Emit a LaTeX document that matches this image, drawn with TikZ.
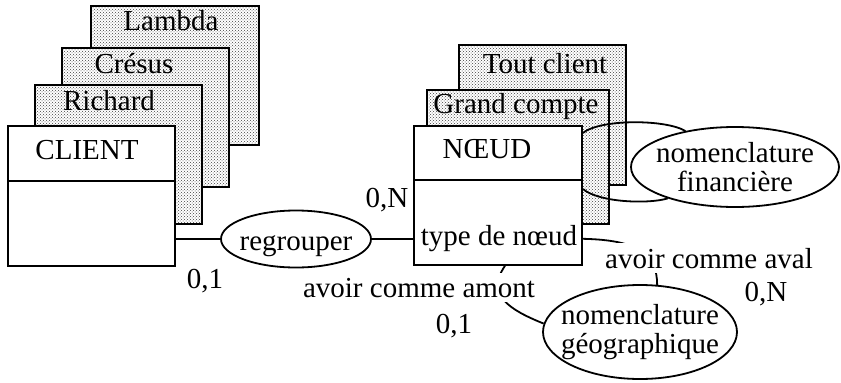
\documentclass[tikz,border=0pt]{standalone}
\usepackage{fontspec}
\setmainfont{Liberation Serif}
\usetikzlibrary{shapes.geometric,patterns,calc}
\begin{document}
\begin{tikzpicture}[x=1pt,y=-1pt, font=\fontsize{29}{29}\selectfont, line width=1.8pt,
 dotbox/.style={draw, preaction={fill=white}, pattern=crosshatch dots, pattern color=black!75, anchor=north west, inner sep=0pt},
 entbox/.style={draw, fill=white, anchor=north west, inner sep=0pt},
 txt/.style={anchor=base, inner sep=0pt},
 assoc/.style={draw, fill=white, ellipse, inner ysep=0pt, align=center},
 lbl/.style={anchor=base, fill=white, inner sep=5pt}
]
\useasboundingbox (0,0) rectangle (841,383);
% CLIENT stack
\node[dotbox, minimum width=168pt, minimum height=139pt] (lambda) at (90,5) {};
\node[txt] (tlambda) at (171,30) {Lambda};
\node[dotbox, minimum width=167pt, minimum height=139pt] (cresus) at (61,47) {};
\node[txt] (tcresus) at (134,73) {Crésus};
\node[dotbox, minimum width=167pt, minimum height=139pt] (richard) at (34,84) {};
\node[txt] (trichard) at (109,110) {Richard};
\node[entbox, minimum width=167pt, minimum height=140pt] (client) at (7,125) {};
\draw (client.west |- 0,181) -- (client.east |- 0,181);
\node[txt] (tclient) at (87,159) {CLIENT};
% NOEUD stack
\node[dotbox, minimum width=167pt, minimum height=140pt] (tout) at (458,44) {};
\node[txt] (ttout) at (545,73) {Tout client};
\node[dotbox, minimum width=182pt, minimum height=134pt] (grand) at (426,89) {};
\node[txt] (tgrand) at (516,113) {Grand compte};
% nomenclature financiere (reflexive)
\node[assoc, minimum width=208pt, minimum height=80pt, inner xsep=-6pt] (fin) at (735,167) {nomenclature\\financière};
\node[entbox, minimum width=168pt, minimum height=139pt] (noeud) at (413,125) {};
\draw (noeud.west |- 0,180) -- (noeud.east |- 0,180);
\node[txt] (tnoeud) at (487,158) {NŒUD};
\node[txt] (ttype) at (499,245) {type de nœud};
\draw ($(noeud.north east)+(0,8)$) .. controls (600,119) and (665,119) .. (fin.144);
\draw ($(noeud.north east)+(0,64)$) .. controls (600,203) and (650,204) .. (fin.205);
% regrouper
\node[assoc, minimum width=150pt, minimum height=57pt, inner xsep=-4pt, text height=23pt, text depth=1pt] (regr) at (296,239) {regrouper};
\draw (regr.west) -- (client.east |- regr.west);
\draw (regr.east) -- (noeud.west |- regr.east);
% nomenclature geographique
\node[assoc, minimum width=194pt, minimum height=94pt, inner xsep=-12pt] (geo) at (640,332) {nomenclature\\géographique};
\draw ($(noeud.south east)+(0,-27)$) .. controls (640,240) and (657,255) .. (geo.70);
\node[lbl] (aval) at (709,268) {avoir comme aval};
\draw ($(noeud.south west)+(92,0)$) .. controls (485,295) and (510,310) .. (geo.175);
\node[lbl] (amont) at (419,297) {avoir comme amont};
% cardinalities
\node[txt] (c1) at (387,207) {0,N};
\node[txt] (c2) at (205,288) {0,1};
\node[txt] (c3) at (454,333) {0,1};
\node[txt] (c4) at (766,301) {0,N};
\end{tikzpicture}
\end{document}
